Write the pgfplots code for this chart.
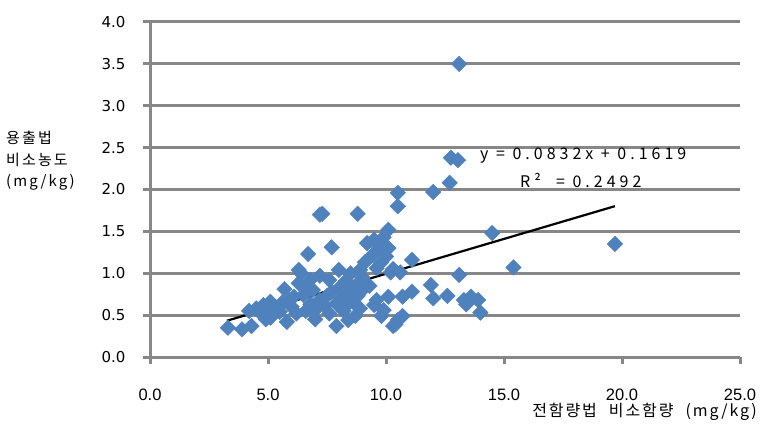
\documentclass[border=0pt]{standalone}
\usepackage{pgfplots}
\pgfplotsset{compat=1.18}
\usepackage{fontspec}
\setmainfont{DejaVu Sans}
\newfontfamily\kr[LetterSpace=14]{Noto Sans CJK KR}
\newfontfamily\krx[LetterSpace=12]{Noto Sans CJK KR}
\newfontfamily\eqf[LetterSpace=25]{Noto Sans CJK KR}
\newfontfamily\xf{Liberation Sans}
\definecolor{mk}{HTML}{4F81BD}
\definecolor{gl}{HTML}{878787}
\begin{document}
\begin{tikzpicture}
\useasboundingbox (0pt,0pt) rectangle (782pt,434pt);
\begin{axis}[
  at={(150pt,77pt)}, anchor=south west,
  width=590pt, height=335pt, scale only axis,
  xmin=0, xmax=25, ymin=0, ymax=4,
  xtick={0,5,10,15,20,25}, ytick={0,0.5,1,1.5,2,2.5,3,3.5,4},
  axis lines=left, axis line style={-, draw=gl, line width=3pt},
  ymajorgrids, grid style={draw=gl, line width=3pt},
  tick align=outside, major tick length=7pt,
  tick style={draw=gl, line width=3pt},
  /pgf/number format/.cd, fixed, fixed zerofill, precision=1, assume math mode=true,
  /pgfplots/.cd,
  yticklabel style={font=\fontsize{15}{17}\selectfont, text=black, anchor=east, xshift=-14pt},
  xticklabel style={font=\xf\fontsize{16.5}{18}\selectfont, text=black, anchor=center, yshift=-31pt},
  clip=false,
]
\addplot[only marks, mark=square*, mark size=5.5pt, mark options={rotate=45, fill=mk, draw=mk}] coordinates {
(3.3,0.35)(3.9,0.33)(4.3,0.37)(4.2,0.55)(4.5,0.58)(4.8,0.62)(5.1,0.66)(4.7,0.52)(5.1,0.47)(5.3,0.60)
(5.5,0.54)(5.8,0.42)(5.7,0.81)(5.9,0.68)(6.0,0.60)(6.2,0.52)(5.6,0.65)(5.2,0.55)(4.9,0.45)
(6.3,0.88)(6.5,0.74)(6.6,0.84)(6.8,0.63)(6.9,0.80)(7.0,0.56)(7.2,0.68)(7.4,0.61)(7.5,0.73)(7.7,0.78)
(7.9,0.64)(8.0,0.82)(8.1,0.70)(8.3,0.61)(8.4,0.76)(8.6,0.66)(8.7,0.85)(8.8,0.73)(8.3,0.91)(7.6,0.92)
(7.2,0.97)(6.8,0.92)(6.3,1.04)(6.4,1.00)(8.0,1.04)(7.9,0.37)(8.4,0.44)(8.7,0.49)(6.7,1.23)(7.7,1.31)
(7.2,1.70)(7.3,1.71)(8.8,1.71)(6.1,0.72)(6.6,0.55)(7.0,0.45)(7.6,0.52)(8.2,0.55)(8.9,0.58)(9.0,0.95)(8.5,1.00)
(9.2,1.36)(9.5,1.40)(9.9,1.43)(10.1,1.52)(9.7,1.30)(10.1,1.30)(9.4,1.21)(9.8,1.13)(9.1,1.13)(8.9,1.04)
(10.2,1.01)(10.6,1.01)(11.1,1.16)(10.5,1.96)(10.5,1.80)(9.6,0.68)(10.1,0.72)(9.9,0.56)(9.8,0.49)(10.5,0.44)
(10.7,0.49)(10.3,0.37)(10.4,0.39)(10.7,0.72)(11.1,0.78)(9.3,0.85)(9.0,0.80)(9.5,0.62)(10.0,1.20)(10.3,1.05)(9.6,1.06)
(11.9,0.86)(12.0,0.70)(12.6,0.73)(13.3,0.68)(13.6,0.72)(13.9,0.68)(13.4,0.63)(14.0,0.53)(13.1,0.98)
(12.0,1.97)(12.7,2.08)(12.75,2.38)(13.05,2.35)(14.5,1.48)(15.4,1.07)(19.7,1.35)(13.1,3.50)
};
\addplot[black, line width=2.2pt] coordinates {(3.26,0.433)(19.7,1.801)};
\end{axis}
\node[anchor=west, font=\eqf\fontsize{16}{18}\selectfont, inner sep=0pt] at (480pt,278pt) {y = 0.0832x + 0.1619};
\node[anchor=west, font=\eqf\fontsize{16}{18}\selectfont, inner sep=0pt] at (520pt,254pt) {R²\ \ = 0.2492};
\node[anchor=north west, align=left, font=\kr\fontsize{15}{21.5}\selectfont, inner sep=0pt] at (6pt,303pt) {용출법\\비소농도\\(mg/kg)};
\node[anchor=east, font=\krx\fontsize{16}{18}\selectfont, inner sep=0pt] at (757pt,22pt) {전함량법\hspace{12pt}비소함량\hspace{12pt}(mg/kg)};
\end{tikzpicture}
\end{document}
